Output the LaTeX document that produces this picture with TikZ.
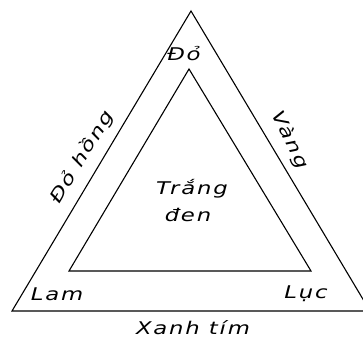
\documentclass[tikz,border=0pt]{standalone}
\usepackage{fontspec}
\setmainfont{DejaVu Sans}
\newfontfamily\hand[LetterSpace=8]{DejaVu Sans}
\newcommand\wideword[1]{\scalebox{1.3}[1]{#1}}
\tikzset{
  edge/.style={draw=black, line width=1.1pt, line join=miter},
  lbl/.style={font=\hand\itshape\fontsize{17.5}{19}\selectfont, inner sep=0pt, text=black}
}
\begin{document}
\begin{tikzpicture}[x=1pt,y=-1pt]
\useasboundingbox (0,0) rectangle (363,342);
\clip (0,0) rectangle (363,342);
% outer triangle
\coordinate (OT) at (191,11);
\coordinate (OL) at (12,311);
\coordinate (OR) at (370,311);
% inner triangle
\coordinate (IT) at (189,69);
\coordinate (IL) at (69,271);
\coordinate (IR) at (311,271);
\draw[edge] (OT) -- (OL) -- (OR) -- cycle;
\draw[edge] (IT) -- (IL) -- (IR) -- cycle;
% labels
\node[lbl] (do) at (184,54) {\wideword{Đỏ}};
\node[lbl, rotate=59] (dohong) at (82,157) {\wideword{Đỏ hồng}};
\node[lbl, rotate=-64] (vang) at (290,140) {\wideword{Vàng}};
\node[lbl] (trang) at (192,189) {\wideword{Trắng}};
\node[lbl] (den) at (188,215) {\wideword{đen}};
\node[lbl] (lam) at (57,294) {\wideword{Lam}};
\node[lbl] (luc) at (306,294) {\wideword{Lục}};
\node[lbl] (xanh) at (193,328) {\wideword{Xanh tím}};
\end{tikzpicture}
\end{document}
